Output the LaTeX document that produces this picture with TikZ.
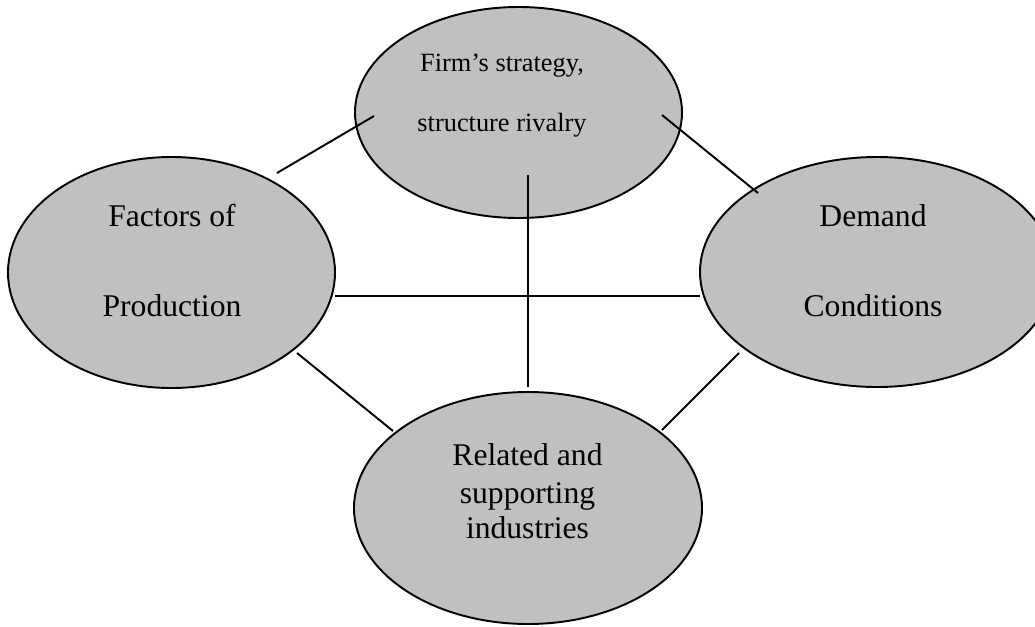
\documentclass[tikz,border=0pt]{standalone}
\usepackage{fontspec}
\setmainfont{Liberation Serif}
\usetikzlibrary{
    shapes.geometric,    % For the ellipse nodes
    positioning          % For relative placement
}

\begin{document}
\begin{tikzpicture}[
    x=0.02cm, y=-0.02cm, % One unit per pixel, y running downwards
    % Style for the grey ellipses
    blob/.style={
        ellipse, draw=black, line width=1.1pt,
        fill={rgb,255:red,192;green,192;blue,192}, inner sep=0pt
    },
    bigtext/.style={anchor=base, font=\fontsize{18}{21}\selectfont},
    smalltext/.style={anchor=base, font=\fontsize{15}{18}\selectfont},
    link/.style={line width=1.1pt}
]

    % Fix the page size
    \useasboundingbox (0,0) rectangle (1035,626);

    % The four ellipses (the right one runs off the page)
    \node[blob, minimum width=327*0.02cm, minimum height=211*0.02cm] (firm) at (518.5,112.5) {};
    \node[blob, minimum width=327*0.02cm, minimum height=231*0.02cm] (factors) at (171.5,272.5) {};
    \node[blob, minimum width=354*0.02cm, minimum height=230*0.02cm] (demand) at (877,272) {};
    \node[blob, minimum width=348*0.02cm, minimum height=232*0.02cm] (related) at (528,508) {};

    % Labels, one node per line
    \node[smalltext] (firmA) at (502,71.7) {Firm’s strategy,};
    \node[smalltext] (firmB) at (502,131.7) {structure rivalry};
    \node[bigtext] (factorsA) at (172,226.7) {Factors of};
    \node[bigtext] (factorsB) at (172,316.7) {Production};
    \node[bigtext] (demandA) at (873,226.7) {Demand};
    \node[bigtext] (demandB) at (873,316.7) {Conditions};
    \node[bigtext] (relatedA) at (527.5,465) {Related and};
    \node[bigtext] (relatedB) at (527.5,503) {supporting};
    \node[bigtext] (relatedC) at (527.5,538) {industries};

    % End points of the connecting lines
    \coordinate (fa1) at (277,173);  \coordinate (fi1) at (374,116);
    \coordinate (fi2) at (662,115);  \coordinate (de1) at (758,193);
    \coordinate (fi3) at (528,175);  \coordinate (re1) at (528,387);
    \coordinate (fa2) at (335,296);  \coordinate (de2) at (700,296);
    \coordinate (fa3) at (297,353);  \coordinate (re2) at (393,431);
    \coordinate (de3) at (739,353);  \coordinate (re3) at (662,430);

    % Connecting lines
    \draw[link] (fa1) -- (fi1);
    \draw[link] (fi2) -- (de1);
    \draw[link] (fi3) -- (re1);
    \draw[link] (fa2) -- (de2);
    \draw[link] (fa3) -- (re2);
    \draw[link] (de3) -- (re3);

\end{tikzpicture}
\end{document}
